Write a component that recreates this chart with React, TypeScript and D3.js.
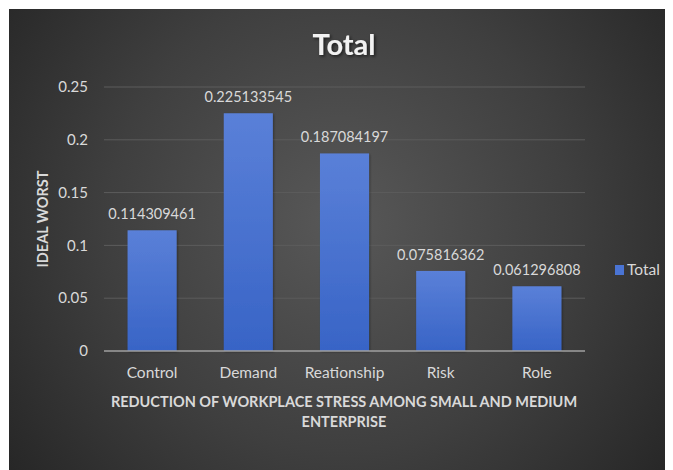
import React from "react";
import * as d3 from "d3";

const categories = ["Control", "Demand", "Reationship", "Risk", "Role"];
const values = [0.114309461, 0.225133545, 0.187084197, 0.075816362, 0.061296808];
const valueLabels = ["0.114309461", "0.225133545", "0.187084197", "0.075816362", "0.061296808"];
const yTicks = [0, 0.05, 0.1, 0.15, 0.2, 0.25];
const yTickLabels = ["0", "0.05", "0.1", "0.15", "0.2", "0.25"];
const seriesName = "Total";

const W = 673;
const H = 470;
const FONT = "Lato, 'Open Sans', sans-serif";

export default function App() {
  const x = d3.scaleBand<string>().domain(categories).range([104, 585]).paddingInner(0.49).paddingOuter(0.245);
  const y = d3.scaleLinear().domain([0, 0.25]).range([351, 87]);

  return (
    <svg width={W - 8} height={H - 8} style={{ display: "block" }} viewBox={`8 8 ${W - 8} ${H - 8}`}>
      <defs>
        <radialGradient id="bg" cx="340" cy="220" r="420" gradientUnits="userSpaceOnUse">
          <stop offset="0" stopColor="#585858" />
          <stop offset="0.55" stopColor="#3f3f3f" />
          <stop offset="1" stopColor="#262626" />
        </radialGradient>
        <linearGradient id="bar" x1="0" y1="0" x2="0" y2="1">
          <stop offset="0" stopColor="#5a80d8" />
          <stop offset="1" stopColor="#3864c6" />
        </linearGradient>
        <filter id="shadow" x="-20%" y="-20%" width="140%" height="140%">
          <feDropShadow dx="1.5" dy="1.5" stdDeviation="1.5" floodColor="#000" floodOpacity="0.6" />
        </filter>
        <filter id="barshadow" x="-20%" y="-20%" width="140%" height="140%">
          <feDropShadow dx="1" dy="1" stdDeviation="1.2" floodColor="#000" floodOpacity="0.35" />
        </filter>
      </defs>
      <rect x={9} y={9} width={W - 9} height={H - 9} fill="url(#bg)" />
      <text x={344} y={55} textAnchor="middle" fontFamily={FONT} fontWeight="bold" fontSize={29} fill="#f2f2f2" filter="url(#shadow)">
        Total
      </text>
      {yTicks.map((t, i) => (
        <g key={t}>
          {t !== 0 && <line x1={104} x2={585} y1={y(t)} y2={y(t)} stroke="#5c5c5c" strokeWidth={1} />}
          <text x={88} y={y(t)} dy="0.35em" textAnchor="end" fontFamily={FONT} fontSize={15} fill="#d9d9d9">
            {yTickLabels[i]}
          </text>
        </g>
      ))}
      {categories.map((c, i) => (
        <g key={c}>
          <rect x={x(c)} y={y(values[i])} width={x.bandwidth()} height={y(0) - y(values[i])} fill="url(#bar)" filter="url(#barshadow)" />
          <text x={(x(c) as number) + x.bandwidth() / 2} y={y(values[i]) - 11} textAnchor="middle" fontFamily={FONT} fontSize={14.5} fill="#d9d9d9">
            {valueLabels[i]}
          </text>
          <text x={(x(c) as number) + x.bandwidth() / 2} y={373} dy="0.35em" textAnchor="middle" fontFamily={FONT} fontSize={15.5} fill="#d9d9d9">
            {c}
          </text>
        </g>
      ))}
      <line x1={104} x2={585} y1={y(0)} y2={y(0)} stroke="#a0a0a0" strokeWidth={1.5} />
      <text x={344} y={402} dy="0.35em" textAnchor="middle" fontFamily={FONT} fontWeight="bold" fontSize={14.5} fill="#d9d9d9">
        REDUCTION OF WORKPLACE STRESS AMONG SMALL AND MEDIUM
      </text>
      <text x={344} y={422} dy="0.35em" textAnchor="middle" fontFamily={FONT} fontWeight="bold" fontSize={14.5} fill="#d9d9d9">
        ENTERPRISE
      </text>
      <text transform={`translate(43,219) rotate(-90)`} dy="0.35em" textAnchor="middle" fontFamily={FONT} fontWeight="bold" fontSize={14.5} fill="#d9d9d9">
        IDEAL WORST
      </text>
      <rect x={615} y={265} width={9} height={10} fill="#4a74d4" />
      <text x={627} y={270} dy="0.35em" fontFamily={FONT} fontSize={15.5} fill="#d9d9d9">
        {seriesName}
      </text>
    </svg>
  );
}
